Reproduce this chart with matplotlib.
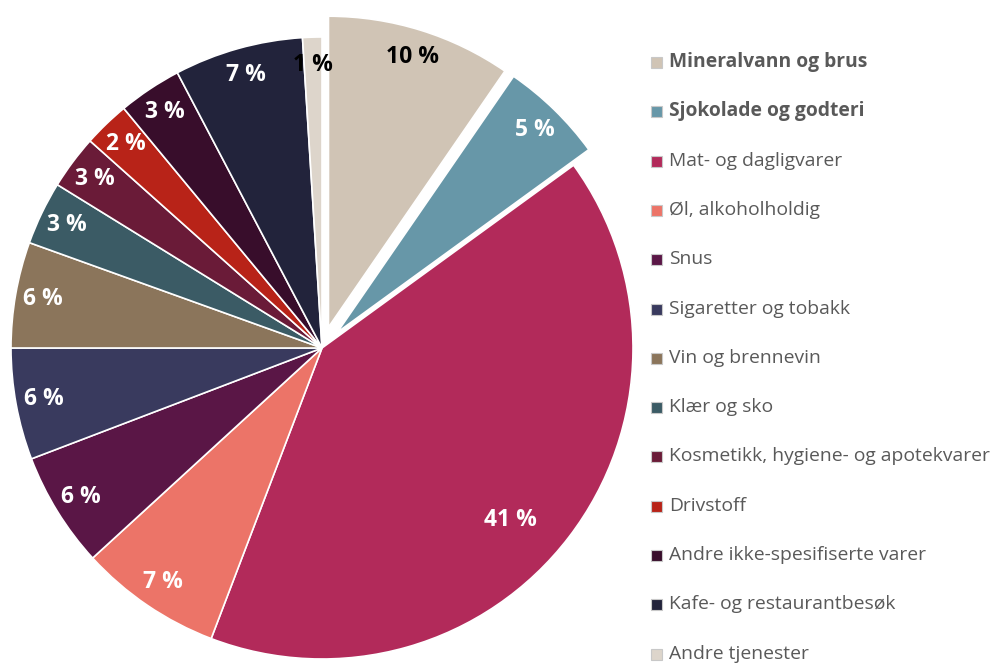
import matplotlib.pyplot as plt
from matplotlib.patches import Rectangle
import numpy as np

plt.rcParams['font.family'] = ['Open Sans', 'DejaVu Sans']

# Data (shares, labels as printed)
categories = ["Mineralvann og brus", "Sjokolade og godteri", "Mat- og dagligvarer",
              "Øl, alkoholholdig", "Snus", "Sigaretter og tobakk", "Vin og brennevin",
              "Klær og sko", "Kosmetikk, hygiene- og apotekvarer", "Drivstoff",
              "Andre ikke-spesifiserte varer", "Kafe- og restaurantbesøk", "Andre tjenester"]
shares = [9.6, 5.4, 40.8, 7.4, 6.0, 5.8, 5.5, 3.3, 2.8, 2.4, 3.3, 6.7, 1.0]
labels = ["10 %", "5 %", "41 %", "7 %", "6 %", "6 %", "6 %", "3 %", "3 %", "2 %", "3 %", "7 %", "1 %"]
colors = ["#D0C4B5", "#6797A8", "#B22A5A", "#EC7468", "#5A1646", "#393A5E", "#8B755B",
          "#3B5B65", "#6A1B38", "#B82318", "#380D2B", "#22233B", "#DDD5CB"]
label_colors = ["black", "white", "white", "white", "white", "white", "white",
                "white", "white", "white", "white", "white", "black"]
bold_legend = [True, True] + [False] * 11
explode = [0.07, 0.07] + [0] * 11

W, H = 999, 666
fig = plt.figure(figsize=(W / 100, H / 100), dpi=100)

# pie placement in pixels
cx, cy, R = 322, 348, 311
lim = 1.12
ax = fig.add_axes([(cx - lim * R) / W, (H - cy - lim * R) / H, 2 * lim * R / W, 2 * lim * R / H])
wedges, _ = ax.pie(shares, colors=colors, startangle=90, counterclock=False,
                   explode=explode, wedgeprops=dict(edgecolor="white", linewidth=1.2))
ax.set_xlim(-lim, lim)
ax.set_ylim(-lim, lim)
ax.set_aspect("equal")
ax.axis("off")

# percentage labels
for i, w in enumerate(wedges):
    mid = np.deg2rad((w.theta1 + w.theta2) / 2)
    d = 0.91
    if i == 2:
        mid = np.deg2rad((w.theta1 + w.theta2) / 2 - 5)
        d = 0.82
    ox, oy = w.center
    ax.text(ox + d * np.cos(mid), oy + d * np.sin(mid), labels[i],
            ha="center", va="center", fontsize=16.5, fontweight="bold",
            color=label_colors[i])

# legend
y0, dy = 62, 49.3
for i, cat in enumerate(categories):
    y = y0 + i * dy
    fig.patches.append(Rectangle((651 / W, (H - y - 6) / H), 11 / W, 11 / H,
                                 transform=fig.transFigure, facecolor=colors[i],
                                 edgecolor="#C8C8C8", linewidth=0.8))
    fig.text(669 / W, (H - y) / H, cat, ha="left", va="center", fontsize=13.9,
             color="#595959", fontweight="bold" if bold_legend[i] else "normal")

fig.savefig("out.png", dpi=100)
